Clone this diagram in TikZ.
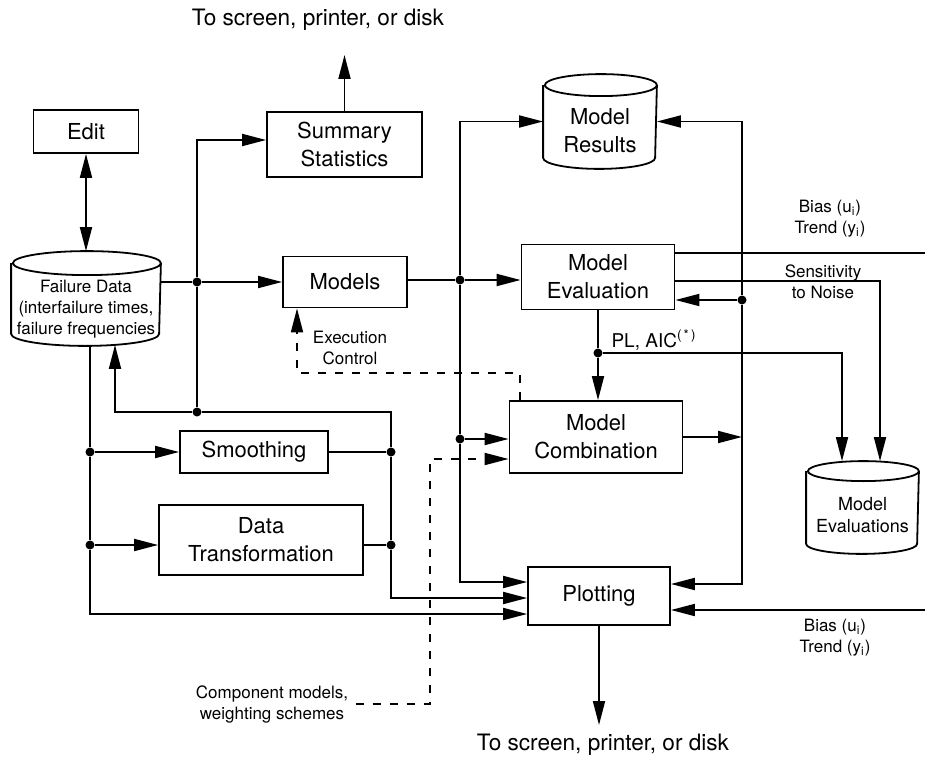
\documentclass[tikz,border=0pt]{standalone}
\usepackage{fontspec}
\setmainfont{TeX Gyre Heros}
\usetikzlibrary{arrows.meta}

\begin{document}
\begin{tikzpicture}[x=0.5pt, y=-0.5pt, line width=0.9pt,
  >={Triangle[length=12pt,width=6pt]},
  boxtext/.style = {align=center, font=\fontsize{11}{14}\selectfont},
  box/.style = {draw, boxtext, inner sep=0pt},
  store/.style = {inner sep=0pt},
  dot/.style = {circle, fill, inner sep=0pt, minimum size=4.5pt},
  note/.style = {align=center, font=\fontsize{8.5}{10.5}\selectfont},
  big/.style = {font=\fontsize{11.3}{14}\selectfont},
  dsh/.style = {dash pattern=on 4pt off 4.5pt}]
\useasboundingbox (0,0) rectangle (925,759);

% blocks
\node[big] (ttl) at (318,20) {To screen, printer, or disk};
\node[box, minimum width=52.5pt, minimum height=21.5pt] (edit) at (86,131.5) {Edit};
\node[store, minimum width=74pt, minimum height=46.5pt] (fdata) at (86,298.5) {};
\node[note] (fdtxt) at (86,309) {Failure Data\\(interfailure times,\\failure frequencies};
\node[box, minimum width=77.5pt, minimum height=32.5pt] (summ) at (344.5,144.5) {Summary\\Statistics};
\node[box, minimum width=62pt, minimum height=25.5pt] (models) at (345,282) {Models};
\node[store, minimum width=56pt, minimum height=46.5pt] (mres) at (600,121.5) {};
\node[boxtext] (mrtxt) at (600,131) {Model\\Results};
\node[box, minimum width=76.5pt, minimum height=32.5pt] (meval) at (598,277) {Model\\Evaluation};
\node[box, minimum width=74pt, minimum height=21pt] (smooth) at (254,452) {Smoothing};
\node[box, minimum width=102pt, minimum height=35pt] (dtrans) at (261,540) {Data\\Transformation};
\node[box, minimum width=86.5pt, minimum height=36pt] (mcomb) at (596,437) {Model\\Combination};
\node[box, minimum width=71pt, minimum height=29pt] (plot) at (599,596) {Plotting};
\node[store, minimum width=55.5pt, minimum height=45.5pt] (mevs) at (862.5,507.5) {};
\node[note, font=\fontsize{9}{11}\selectfont] (mevtxt) at (862.5,515) {Model\\Evaluations};
\node[big] (bot) at (603,745) {To screen, printer, or disk};

% cylinder outlines
\draw ([yshift=-6pt]fdata.north west) -- ([yshift=6pt]fdata.south west)
  arc[start angle=180, end angle=360, x radius=37pt, y radius=6pt]
  -- ([yshift=-6pt]fdata.north east)
  arc[start angle=0, end angle=180, x radius=37pt, y radius=6pt]
  arc[start angle=180, end angle=360, x radius=37pt, y radius=6pt];
\draw ([yshift=-5.5pt]mres.north west) -- ([yshift=5.5pt]mres.south west)
  arc[start angle=180, end angle=360, x radius=28pt, y radius=5.5pt]
  -- ([yshift=-5.5pt]mres.north east)
  arc[start angle=0, end angle=180, x radius=28pt, y radius=5.5pt]
  arc[start angle=180, end angle=360, x radius=28pt, y radius=5.5pt];
\draw ([yshift=-5pt]mevs.north west) -- ([yshift=5pt]mevs.south west)
  arc[start angle=180, end angle=360, x radius=27.75pt, y radius=5pt]
  -- ([yshift=-5pt]mevs.north east)
  arc[start angle=0, end angle=180, x radius=27.75pt, y radius=5pt]
  arc[start angle=180, end angle=360, x radius=27.75pt, y radius=5pt];

% labels
\node[note] (bias1) at (830,219) {Bias (u\textsubscript{i})\\Trend (y\textsubscript{i})};
\node[note] (sens) at (823,282) {Sensitivity\\to Noise};
\node[note, font=\fontsize{9.5}{11}\selectfont, anchor=west] (plaic) at (604,340) {PL, AIC\textsuperscript{(\,*\,)}};
\node[note] (exec) at (350,348) {Execution\\Control};
\node[note] (comp) at (272,704) {Component models,\\weighting schemes};
\node[note] (bias2) at (835,638) {Bias (u\textsubscript{i})\\Trend (y\textsubscript{i})};

% junctions
\node[dot] (j1) at (197,282) {};
\node[dot] (j2) at (197,412) {};
\node[dot] (j3) at (391,452) {};
\node[dot] (j4) at (391,545) {};
\node[dot] (j5) at (90,452) {};
\node[dot] (j6) at (90,545) {};
\node[dot] (j7) at (460,280) {};
\node[dot] (j8) at (460,439) {};
\node[dot] (j9) at (598,353) {};
\node[dot] (j10) at (742,300) {};
\coordinate (o1) at (344.5,55);
\coordinate (o2) at (599,725);
\coordinate (eo1) at (925,253);
\coordinate (pi) at (925,610);
\coordinate (ek) at (297,373);
\coordinate (ck) at (430,459);

% connectors
\draw[->] (summ) -- (o1);
\draw[<->] (edit) -- (fdata);
\draw (fdata.east |- j1) -- (j1);
\draw[->] (j1) -- (models);
\draw[->] (j1) |- ([yshift=2.25pt]summ.west);
\draw (j1) -- (j2);
\draw[->] (j2) -| ([xshift=14.5pt,yshift=0.5pt]fdata.south);
\draw (j2) -| (j3);
\draw (j3) -- (j4);
\draw[->] (j4) |- ([yshift=-1pt]plot.west);
\draw (smooth) -- (j3);
\draw (dtrans.east |- j4) -- (j4);
\draw ([xshift=2pt]fdata.south) -- (j5);
\draw (j5) -- (j6);
\draw[->] (j6) |- ([yshift=-9pt]plot.west);
\draw[->] (j5) -- (smooth);
\draw[->] (j6) -- (j6 -| dtrans.west);
\draw (models.east |- j7) -- (j7);
\draw[->] (j7) -- (j7 -| meval.west);
\draw[->] (j7) |- (mres);
\draw (j7) -- (j8);
\draw[->] (j8) -- (j8 -| mcomb.west);
\draw[->] (j8) |- ([yshift=7pt]plot.west);
\draw (meval.south -| j9) -- (j9);
\draw[->] (j9) -- (j9 |- mcomb.north);
\draw[->] (j9) -| ([xshift=-10.25pt]mevs.north);
\draw (meval.east |- eo1) -- (eo1);
\draw[->] ([yshift=-2pt]meval.east) -| ([xshift=8.75pt]mevs.north);
\draw[->] (j10) -- (j10 -| meval.east);
\draw[->] (j10) |- (mres);
\draw[->] (j10) |- ([yshift=6pt]plot.east);
\draw[->] (mcomb.east) -- (mcomb.east -| j10);
\draw[->] (pi) -- (pi -| plot.east);
\draw[->] (plot) -- (o2);
\draw[->, dsh] ([xshift=5.75pt]mcomb.north west) |- (ek) -- (ek |- models.south);
\draw[->, dsh] (comp.east) -| (ck) -- (ck -| mcomb.west);
\end{tikzpicture}
\end{document}
